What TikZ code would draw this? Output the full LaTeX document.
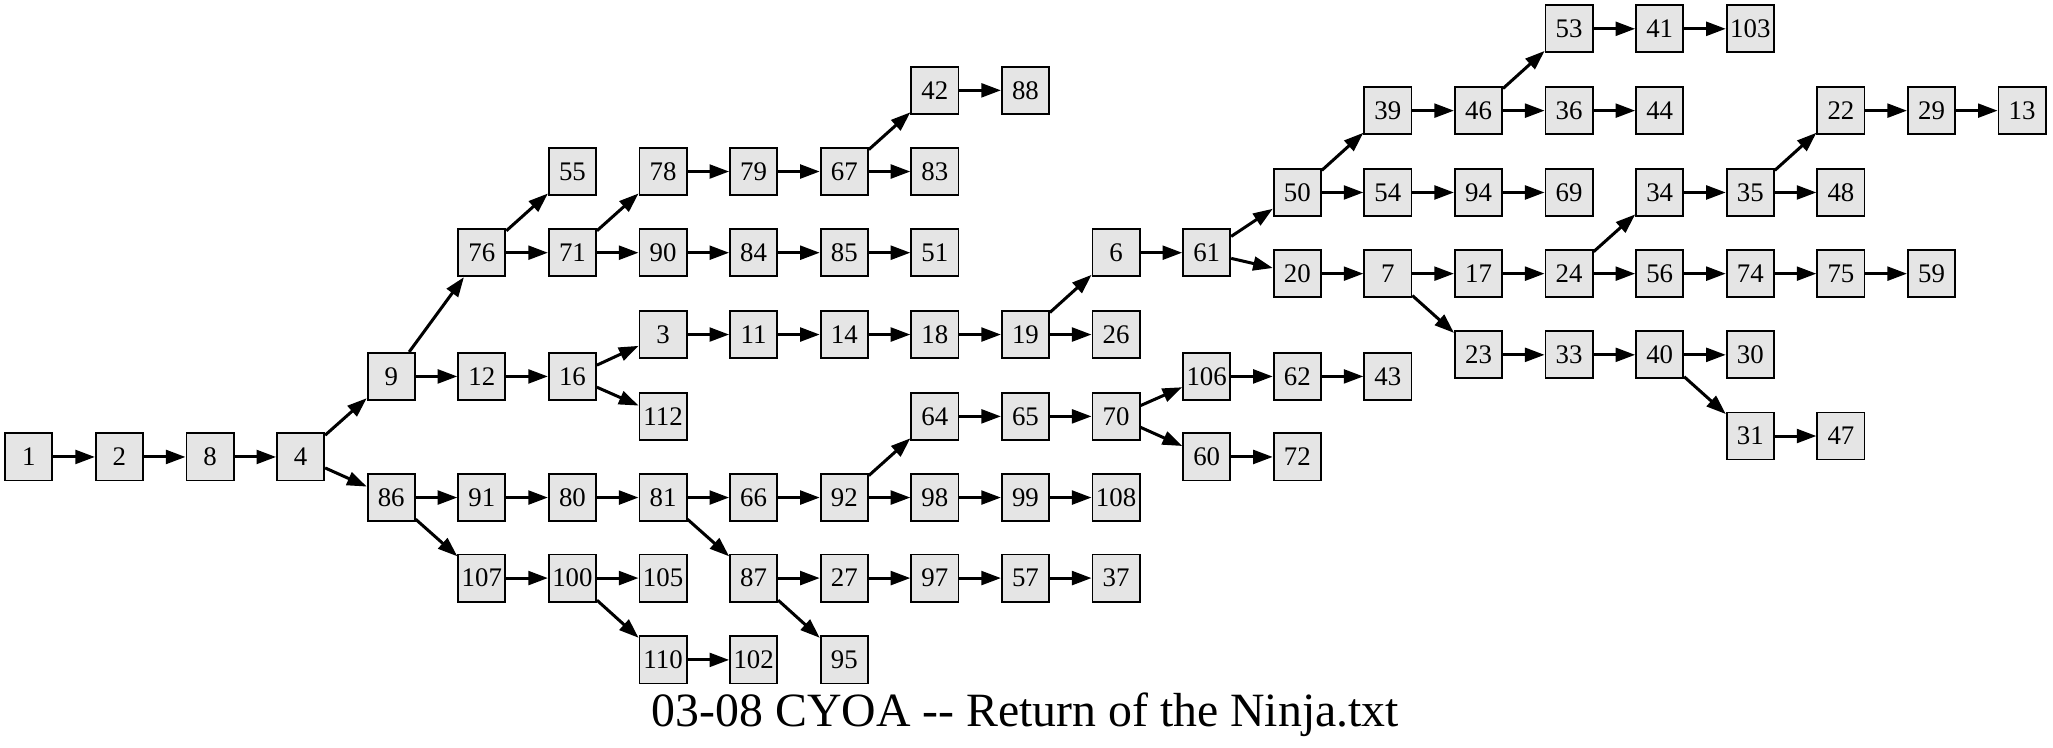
\documentclass[tikz,border=0pt]{standalone}
\usepackage{fontspec}
\setmainfont{Liberation Serif}[Ligatures=TeXOff]
\usetikzlibrary{arrows.meta}
\definecolor{boxgray}{HTML}{E5E5E5}

\tikzset{
  page/.style={draw=black, fill=boxgray, line width=1.4pt, minimum width=36pt,
    minimum height=36pt, inner sep=0pt, font=\fontsize{20.5}{22}\selectfont},
  link/.style={line width=2.3pt, -{Triangle[length=15pt,width=10.5pt]}}
}

\begin{document}
\begin{tikzpicture}[x=69.2pt, y=-1pt]
\useasboundingbox (-0.318,0) rectangle (22.341,571);

% start of the story
\node[page] (n1) at (0,349) {1};
\node[page] (n2) at (1,349) {2};
\node[page] (n8) at (2,349) {8};
\node[page] (n4) at (3,349) {4};
\node[page] (n9) at (4,287.5) {9};
\node[page] (n86) at (4,380) {86};

% upper branch
\node[page] (n76) at (5,193) {76};
\node[page] (n12) at (5,287.5) {12};
\node[page] (n55) at (6,131) {55};
\node[page] (n71) at (6,193) {71};
\node[page] (n16) at (6,287.5) {16};
\node[page] (n78) at (7,131) {78};
\node[page] (n90) at (7,193) {90};
\node[page] (n3) at (7,255.5) {3};
\node[page] (n112) at (7,318) {112};
\node[page] (n79) at (8,131) {79};
\node[page] (n84) at (8,193) {84};
\node[page] (n11) at (8,255.5) {11};
\node[page] (n67) at (9,131) {67};
\node[page] (n85) at (9,193) {85};
\node[page] (n14) at (9,255.5) {14};
\node[page] (n42) at (10,69) {42};
\node[page] (n83) at (10,131) {83};
\node[page] (n51) at (10,193) {51};
\node[page] (n18) at (10,255.5) {18};
\node[page] (n88) at (11,69) {88};
\node[page] (n19) at (11,255.5) {19};
\node[page] (n6) at (12,193) {6};
\node[page] (n26) at (12,255.5) {26};
\node[page] (n61) at (13,193) {61};
\node[page] (n50) at (14,147) {50};
\node[page] (n20) at (14,209) {20};
\node[page] (n39) at (15,84.5) {39};
\node[page] (n54) at (15,147) {54};
\node[page] (n7) at (15,209) {7};
\node[page] (n46) at (16,84.5) {46};
\node[page] (n94) at (16,147) {94};
\node[page] (n17) at (16,209) {17};
\node[page] (n23) at (16,271) {23};
\node[page] (n53) at (17,22) {53};
\node[page] (n36) at (17,84.5) {36};
\node[page] (n69) at (17,147) {69};
\node[page] (n24) at (17,209) {24};
\node[page] (n33) at (17,271) {33};
\node[page] (n41) at (18,22) {41};
\node[page] (n44) at (18,84.5) {44};
\node[page] (n34) at (18,147) {34};
\node[page] (n56) at (18,209) {56};
\node[page] (n40) at (18,271) {40};
\node[page] (n103) at (19,22) {103};
\node[page] (n35) at (19,147) {35};
\node[page] (n74) at (19,209) {74};
\node[page] (n30) at (19,271) {30};
\node[page] (n31) at (19,333) {31};
\node[page] (n22) at (20,84.5) {22};
\node[page] (n48) at (20,147) {48};
\node[page] (n75) at (20,209) {75};
\node[page] (n47) at (20,333) {47};
\node[page] (n29) at (21,84.5) {29};
\node[page] (n59) at (21,209) {59};
\node[page] (n13) at (22,84.5) {13};

% lower branch
\node[page] (n91) at (5,380) {91};
\node[page] (n107) at (5,441.5) {107};
\node[page] (n80) at (6,380) {80};
\node[page] (n100) at (6,441.5) {100};
\node[page] (n81) at (7,380) {81};
\node[page] (n105) at (7,441.5) {105};
\node[page] (n110) at (7,504) {110};
\node[page] (n66) at (8,380) {66};
\node[page] (n87) at (8,441.5) {87};
\node[page] (n102) at (8,504) {102};
\node[page] (n92) at (9,380) {92};
\node[page] (n27) at (9,441.5) {27};
\node[page] (n95) at (9,504) {95};
\node[page] (n64) at (10,318) {64};
\node[page] (n98) at (10,380) {98};
\node[page] (n97) at (10,441.5) {97};
\node[page] (n65) at (11,318) {65};
\node[page] (n99) at (11,380) {99};
\node[page] (n57) at (11,441.5) {57};
\node[page] (n70) at (12,318) {70};
\node[page] (n108) at (12,380) {108};
\node[page] (n37) at (12,441.5) {37};
\node[page] (n106) at (13,287.5) {106};
\node[page] (n60) at (13,349) {60};
\node[page] (n62) at (14,287.5) {62};
\node[page] (n72) at (14,349) {72};
\node[page] (n43) at (15,287.5) {43};

% links
\draw[link] (n1) -- (n2);
\draw[link] (n2) -- (n8);
\draw[link] (n8) -- (n4);
\draw[link] (n4) -- (n9);
\draw[link] (n4) -- (n86);
\draw[link] (n9) -- (n76);
\draw[link] (n9) -- (n12);
\draw[link] (n76) -- (n55);
\draw[link] (n76) -- (n71);
\draw[link] (n71) -- (n78);
\draw[link] (n71) -- (n90);
\draw[link] (n78) -- (n79);
\draw[link] (n79) -- (n67);
\draw[link] (n67) -- (n42);
\draw[link] (n67) -- (n83);
\draw[link] (n42) -- (n88);
\draw[link] (n90) -- (n84);
\draw[link] (n84) -- (n85);
\draw[link] (n85) -- (n51);
\draw[link] (n12) -- (n16);
\draw[link] (n16) -- (n3);
\draw[link] (n16) -- (n112);
\draw[link] (n3) -- (n11);
\draw[link] (n11) -- (n14);
\draw[link] (n14) -- (n18);
\draw[link] (n18) -- (n19);
\draw[link] (n19) -- (n6);
\draw[link] (n19) -- (n26);
\draw[link] (n6) -- (n61);
\draw[link] (n61) -- (n50);
\draw[link] (n61) -- (n20);
\draw[link] (n50) -- (n39);
\draw[link] (n50) -- (n54);
\draw[link] (n39) -- (n46);
\draw[link] (n46) -- (n53);
\draw[link] (n46) -- (n36);
\draw[link] (n53) -- (n41);
\draw[link] (n41) -- (n103);
\draw[link] (n36) -- (n44);
\draw[link] (n54) -- (n94);
\draw[link] (n94) -- (n69);
\draw[link] (n20) -- (n7);
\draw[link] (n7) -- (n17);
\draw[link] (n7) -- (n23);
\draw[link] (n17) -- (n24);
\draw[link] (n24) -- (n34);
\draw[link] (n24) -- (n56);
\draw[link] (n34) -- (n35);
\draw[link] (n35) -- (n22);
\draw[link] (n35) -- (n48);
\draw[link] (n22) -- (n29);
\draw[link] (n29) -- (n13);
\draw[link] (n56) -- (n74);
\draw[link] (n74) -- (n75);
\draw[link] (n75) -- (n59);
\draw[link] (n23) -- (n33);
\draw[link] (n33) -- (n40);
\draw[link] (n40) -- (n30);
\draw[link] (n40) -- (n31);
\draw[link] (n31) -- (n47);
\draw[link] (n86) -- (n91);
\draw[link] (n86) -- (n107);
\draw[link] (n91) -- (n80);
\draw[link] (n80) -- (n81);
\draw[link] (n81) -- (n66);
\draw[link] (n81) -- (n87);
\draw[link] (n66) -- (n92);
\draw[link] (n92) -- (n64);
\draw[link] (n92) -- (n98);
\draw[link] (n64) -- (n65);
\draw[link] (n65) -- (n70);
\draw[link] (n70) -- (n106);
\draw[link] (n70) -- (n60);
\draw[link] (n106) -- (n62);
\draw[link] (n62) -- (n43);
\draw[link] (n60) -- (n72);
\draw[link] (n98) -- (n99);
\draw[link] (n99) -- (n108);
\draw[link] (n87) -- (n27);
\draw[link] (n87) -- (n95);
\draw[link] (n27) -- (n97);
\draw[link] (n97) -- (n57);
\draw[link] (n57) -- (n37);
\draw[link] (n107) -- (n100);
\draw[link] (n100) -- (n105);
\draw[link] (n100) -- (n110);
\draw[link] (n110) -- (n102);

% title
\node[anchor=base, font=\fontsize{36.5}{40}\selectfont] (title) at (11,555) {03-08 CYOA -- Return of the Ninja.txt};
\end{tikzpicture}
\end{document}
